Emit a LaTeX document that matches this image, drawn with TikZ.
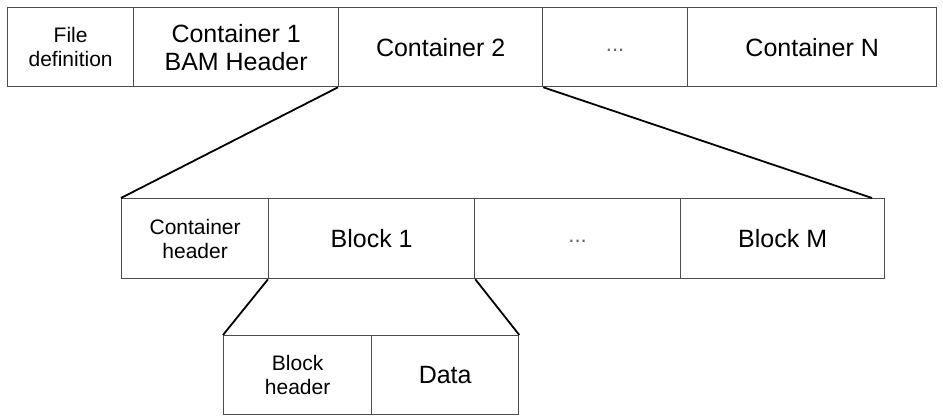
\documentclass[tikz,border=0pt]{standalone}
\usepackage{fontspec}
\setmainfont{Liberation Sans}
\begin{document}
\begin{tikzpicture}[x=1pt,y=-1pt,
  cell/.style={draw=black!70, line width=1.3pt, anchor=north west, inner sep=0pt,
    minimum height=79pt, align=center, font=\fontsize{25}{28}\selectfont},
  small/.style={font=\fontsize{21}{24}\selectfont},
  dots/.style={font=\fontsize{22}{24}\selectfont, text=black!60},
  link/.style={draw=black, line width=1.8pt}]
\useasboundingbox (0,0) rectangle (943,417);
\fill[white] (0,0) rectangle (943,417);
% top row
\node[cell, small, minimum width=126pt] (fd) at (7,7) {File\\definition};
\node[cell, minimum width=205pt] (c1) at (133,7) {Container 1\\BAM Header};
\node[cell, minimum width=204pt] (c2) at (338,7) {Container 2};
\node[cell, dots, minimum width=145pt] (cd) at (542,7) {\smash{\raisebox{-4pt}{...}}};
\node[cell, minimum width=249pt] (cN) at (687,7) {Container N};
% middle row
\node[cell, small, minimum width=147pt, minimum height=80pt] (ch) at (121,198) {Container\\header};
\node[cell, minimum width=206pt, minimum height=80pt] (b1) at (268,198) {Block 1};
\node[cell, dots, minimum width=206pt, minimum height=80pt] (bd) at (474,198) {\smash{\raisebox{-4pt}{...}}};
\node[cell, minimum width=204pt, minimum height=80pt] (bM) at (680,198) {Block M};
% bottom row
\node[cell, small, minimum width=148pt] (bh) at (223,335) {Block\\header};
\node[cell, minimum width=147pt] (dt) at (371,335) {Data};
% connectors
\coordinate (mEnd) at (872,198);
\draw[link] (c2.south west) -- (ch.north west);
\draw[link] (c2.south east) -- (mEnd);
\draw[link] (b1.south west) -- (bh.north west);
\draw[link] (b1.south east) -- (dt.north east);
\end{tikzpicture}
\end{document}
